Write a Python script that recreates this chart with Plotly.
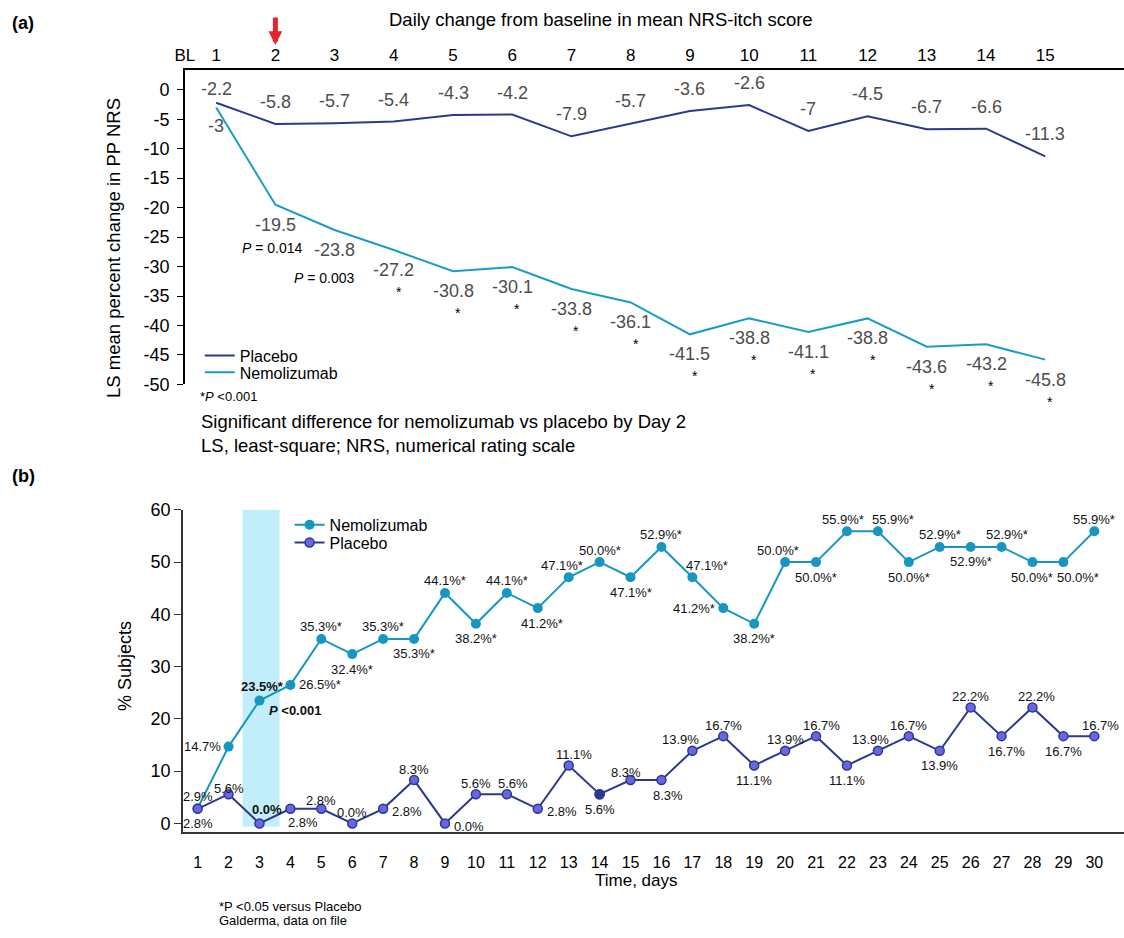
import plotly.graph_objects as go

W, H = 1124, 938

# ---------------- data ----------------
# Panel (a): daily change from baseline in mean NRS-itch score (LS mean % change)
a_days = list(range(1, 16))
a_tick_labels = ["BL"] + [str(d) for d in a_days]
a_placebo = [-2.2, -5.8, -5.7, -5.4, -4.3, -4.2, -7.9, -5.7, -3.6, -2.6, -7, -4.5, -6.7, -6.6, -11.3]
a_nemolizumab = [-3, -19.5, -23.8, -27.2, -30.8, -30.1, -33.8, -36.1, -41.5, -38.8, -41.1, -38.8, -43.6, -43.2, -45.8]
a_yticks = [0, -5, -10, -15, -20, -25, -30, -35, -40, -45, -50]
a_star_days = list(range(4, 16))          # *P<0.001
a_pvalues = {2: "0.014", 3: "0.003"}

# Panel (b): % subjects
b_days = list(range(1, 31))
b_nemolizumab = [2.9, 14.7, 23.5, 26.5, 35.3, 32.4, 35.3, 35.3, 44.1, 38.2,
                 44.1, 41.2, 47.1, 50.0, 47.1, 52.9, 47.1, 41.2, 38.2, 50.0,
                 50.0, 55.9, 55.9, 50.0, 52.9, 52.9, 52.9, 50.0, 50.0, 55.9]
b_placebo = [2.8, 5.6, 0.0, 2.8, 2.8, 0.0, 2.8, 8.3, 0.0, 5.6,
             5.6, 2.8, 11.1, 5.6, 8.3, 8.3, 13.9, 16.7, 11.1, 13.9,
             16.7, 11.1, 13.9, 16.7, 13.9, 22.2, 16.7, 22.2, 16.7, 16.7]
b_sig_from_day = 3                         # *P<0.05 from day 3
b_yticks = [0, 10, 20, 30, 40, 50, 60]

# ---------------- style ----------------
FONT = "Liberation Sans, Arial, Helvetica, sans-serif"
NAVY = "#2b3990"
TEAL = "#1b9cc7"
TEAL_B = "#1797c0"
LAV = "#6a66df"
GRAY = "#4d4d4d"

# label placement codes for panel (b): a=above, b=below, l=left, r=right, br=below-right
nemo_pos = ['a', 'l', 'a', 'r', 'a', 'b', 'a', 'b', 'a', 'b', 'a', 'b', 'a', 'a', 'b',
            'a', 'a', 'l', 'b', 'a', 'b', 'a', 'a', 'b', 'a', 'b', 'a', 'b', 'b', 'a']
plac_pos = ['b', 'a', 'a', 'br', 'a', 'a', 'r', 'a', 'r', 'a', 'a', 'r', 'a', 'b', 'a',
            'b', 'a', 'a', 'b', 'a', 'a', 'b', 'a', 'a', 'b', 'a', 'b', 'a', 'b', 'a']
# small horizontal / vertical nudges (pixels) keyed by day
nemo_dx = {12: 4, 13: -7, 17: 15, 20: -7, 22: -4, 23: 15, 27: 5, 29: 15}
plac_dx = {11: 6, 13: 5, 15: -5, 16: 7, 17: -12, 21: 5, 23: -7, 27: 5, 28: 4, 30: 6}
plac_dy = {2: 6, 5: 8, 15: 8}

# The photographed page shows the figure offset by ~8 px and slightly shrunk;
# these helpers convert a wanted on-picture pixel position into figure pixels.
SX, OX = 0.9929, 7.9
SY, OY = 0.9832, 7.87


def fx(p):
    return (p - OX) / SX


def fy(p):
    return (p - OY) / SY


def px(p):            # paper x from on-picture pixel
    return fx(p) / W


def py(p):            # paper y from on-picture pixel
    return 1 - fy(p) / H


fig = go.Figure()

# ---- panel (a) traces
fig.add_trace(go.Scatter(x=a_days, y=a_placebo, mode="lines", name="Placebo",
                         line=dict(color=NAVY, width=2), xaxis="x", yaxis="y",
                         legend="legend", hoverinfo="skip"))
fig.add_trace(go.Scatter(x=a_days, y=a_nemolizumab, mode="lines", name="Nemolizumab",
                         line=dict(color=TEAL, width=2), xaxis="x", yaxis="y",
                         legend="legend2", hoverinfo="skip"))

# ---- panel (b) traces
fig.add_trace(go.Scatter(x=b_days, y=b_nemolizumab, mode="lines+markers", name="Nemolizumab",
                         line=dict(color=TEAL_B, width=2),
                         marker=dict(size=10, color=TEAL_B),
                         xaxis="x2", yaxis="y2", legend="legend3", hoverinfo="skip"))
fig.add_trace(go.Scatter(x=b_days, y=b_placebo, mode="lines+markers", name="Placebo",
                         line=dict(color=NAVY, width=2),
                         marker=dict(size=9, color=LAV, line=dict(color=NAVY, width=1.5)),
                         xaxis="x2", yaxis="y2", legend="legend4", hoverinfo="skip"))
# darker marker on day 14 placebo
i14 = b_days.index(14)
fig.add_trace(go.Scatter(x=[b_days[i14]], y=[b_placebo[i14]], mode="markers",
                         marker=dict(size=9, color=NAVY, line=dict(color=NAVY, width=1.5)),
                         xaxis="x2", yaxis="y2", showlegend=False, hoverinfo="skip"))

ann = []

# ---- panel (a) value labels
for i, (d, v) in enumerate(zip(a_days, a_placebo)):
    ann.append(dict(x=d, y=v, xref="x", yref="y", text=f"{v:g}", showarrow=False,
                    yshift=14 if i == 0 else 22, font=dict(size=18, color=GRAY)))
for i, (d, v) in enumerate(zip(a_days, a_nemolizumab)):
    ann.append(dict(x=d, y=v, xref="x", yref="y", text=f"{v:g}", showarrow=False,
                    yshift=-19 if i == 0 else -20, font=dict(size=18, color=GRAY)))
for d in a_star_days:
    v = a_nemolizumab[a_days.index(d)]
    ann.append(dict(x=d, y=v, xref="x", yref="y", text="*", showarrow=False,
                    yshift=-42, xshift=5, font=dict(size=14, color="black")))
for d, p in a_pvalues.items():
    v = a_nemolizumab[a_days.index(d)]
    ann.append(dict(x=d, y=v, xref="x", yref="y", text=f"<i>P</i> = {p}", showarrow=False,
                    yshift=-43 if d == 2 else -48, xshift=-3 if d == 2 else -10,
                    font=dict(size=14, color="black")))

# red arrow above day 2
ann.append(dict(x=2, y=py(43), xref="x", yref="paper", text="", showarrow=True,
                ax=0, ay=-29, arrowhead=2, arrowwidth=5, arrowsize=0.55,
                arrowcolor="#e3262b"))


# ---- panel (b) value labels
def b_label(d, v, pos, star, bold, placebo):
    txt = f"{v:.1f}%"
    if star:
        txt += "*"
    if bold:
        txt = f"<b>{txt}</b>"
    a = dict(x=d, y=v, xref="x2", yref="y2", text=txt, showarrow=False,
             font=dict(size=13, color="#111111"))
    dx = (plac_dx if placebo else nemo_dx).get(d, 0)
    if pos == 'a':
        ys = 11 if placebo else 12
        if placebo:
            ys = plac_dy.get(d, ys)
        if bold:
            ys = 14
            dx = 8 if placebo else 3
        a.update(yshift=ys, xshift=dx)
    elif pos == 'b':
        a.update(yshift=-15, xshift=dx)
    elif pos == 'l':
        a.update(xanchor="right", xshift=-6)
    elif pos == 'r':
        a.update(xanchor="left", xshift=7, yshift=-3 if placebo else 0)
    elif pos == 'br':
        a.update(xshift=13, yshift=-14)
    return a


for i, d in enumerate(b_days):
    ann.append(b_label(d, b_nemolizumab[i], nemo_pos[i], d >= b_sig_from_day, d == 3, False))
    ann.append(b_label(d, b_placebo[i], plac_pos[i], False, d == 3, True))

i3 = b_days.index(3)
ann.append(dict(x=3, y=b_nemolizumab[i3], xref="x2", yref="y2",
                text="<b><i>P</i> &lt;0.001</b>", showarrow=False, xanchor="left",
                xshift=8, yshift=-10, font=dict(size=13, color="#111111")))

# ---- titles / footnotes
ann += [
    dict(x=0, y=py(21), xref="paper", yref="paper", text="<b>(a)</b>", showarrow=False,
         xanchor="left", yanchor="middle", font=dict(size=18)),
    dict(x=px(600), y=py(17), xref="paper", yref="paper",
         text="Daily change from baseline in mean NRS-itch score", showarrow=False,
         xanchor="center", yanchor="middle", font=dict(size=18.5)),
    dict(x=px(111), y=py(247), xref="paper", yref="paper",
         text="LS mean percent change in PP NRS", showarrow=False, textangle=-90,
         xanchor="center", yanchor="middle", font=dict(size=18.5)),
    dict(x=px(196), y=py(396), xref="paper", yref="paper",
         text="*<i>P</i> &lt;0.001", showarrow=False,
         xanchor="left", yanchor="middle", font=dict(size=13)),
    dict(x=px(197), y=py(421), xref="paper", yref="paper",
         text="Significant difference for nemolizumab vs placebo by Day 2", showarrow=False,
         xanchor="left", yanchor="middle", font=dict(size=18.5)),
    dict(x=px(197), y=py(445), xref="paper", yref="paper",
         text="LS, least-square; NRS, numerical rating scale", showarrow=False,
         xanchor="left", yanchor="middle", font=dict(size=18.5)),
    dict(x=0, y=py(476), xref="paper", yref="paper", text="<b>(b)</b>", showarrow=False,
         xanchor="left", yanchor="middle", font=dict(size=18)),
    dict(x=px(123), y=py(667), xref="paper", yref="paper", text="% Subjects",
         showarrow=False, textangle=-90, xanchor="center", yanchor="middle",
         font=dict(size=18)),
    dict(x=px(636), y=py(882), xref="paper", yref="paper", text="Time, days",
         showarrow=False, xanchor="center", yanchor="middle", font=dict(size=17)),
    dict(x=px(215), y=py(909), xref="paper", yref="paper",
         text="*P &lt;0.05 versus Placebo", showarrow=False,
         xanchor="left", yanchor="middle", font=dict(size=13)),
    dict(x=px(215), y=py(923), xref="paper", yref="paper",
         text="Galderma, data on file", showarrow=False,
         xanchor="left", yanchor="middle", font=dict(size=13)),
]

shapes = [dict(type="rect", xref="x2", yref="y2", x0=2.45, x1=3.65, y0=-0.6, y1=60,
               fillcolor="#c2eefc", line=dict(width=0), layer="below")]


def leg(xpx, ypx):
    return dict(x=px(xpx), y=py(ypx), xanchor="left", yanchor="middle",
                font=dict(size=16), bgcolor="rgba(0,0,0,0)", borderwidth=0,
                itemwidth=30, tracegroupgap=0)


fig.update_layout(
    width=W, height=H,
    margin=dict(l=0, r=0, t=0, b=0),
    paper_bgcolor="white", plot_bgcolor="white",
    font=dict(family=FONT, color="black"),
    xaxis=dict(domain=[px(183), 1], range=[0.47, 16.33], anchor="y", side="top",
               tickvals=[0.47] + a_days, ticktext=a_tick_labels, ticks="",
               showline=True, linecolor="black", linewidth=1.5,
               showgrid=False, zeroline=False, tickfont=dict(size=17)),
    yaxis=dict(domain=[py(384), py(68)], range=[-50, 3.38], anchor="x",
               tickvals=a_yticks, ticktext=[f"{v:g}" for v in a_yticks],
               ticks="outside", ticklen=6, tickwidth=1.2, tickcolor="black",
               ticklabelstandoff=4,
               showline=True, linecolor="black", linewidth=1.5,
               showgrid=False, zeroline=False, tickfont=dict(size=18)),
    xaxis2=dict(domain=[px(181), 1], range=[0.52, 30.96], anchor="y2",
                tickvals=b_days, ticktext=[str(d) for d in b_days],
                ticks="outside", ticklen=14, tickcolor="rgba(0,0,0,0)",
                showline=True, linecolor="#333333", linewidth=2,
                showgrid=False, zeroline=False, tickfont=dict(size=16)),
    yaxis2=dict(domain=[py(834), py(510)], range=[-1.7, 60], anchor="x2",
                tickvals=b_yticks, ticktext=[str(v) for v in b_yticks],
                ticks="outside", ticklen=7, tickwidth=1.2, tickcolor="#333333",
                showline=True, linecolor="#333333", linewidth=1.5,
                showgrid=False, zeroline=False, tickfont=dict(size=18)),
    legend=leg(198, 355),
    legend2=leg(198, 372),
    legend3=leg(288, 525),
    legend4=leg(288, 543),
    annotations=ann,
    shapes=shapes,
)

fig.write_html("out.html")
